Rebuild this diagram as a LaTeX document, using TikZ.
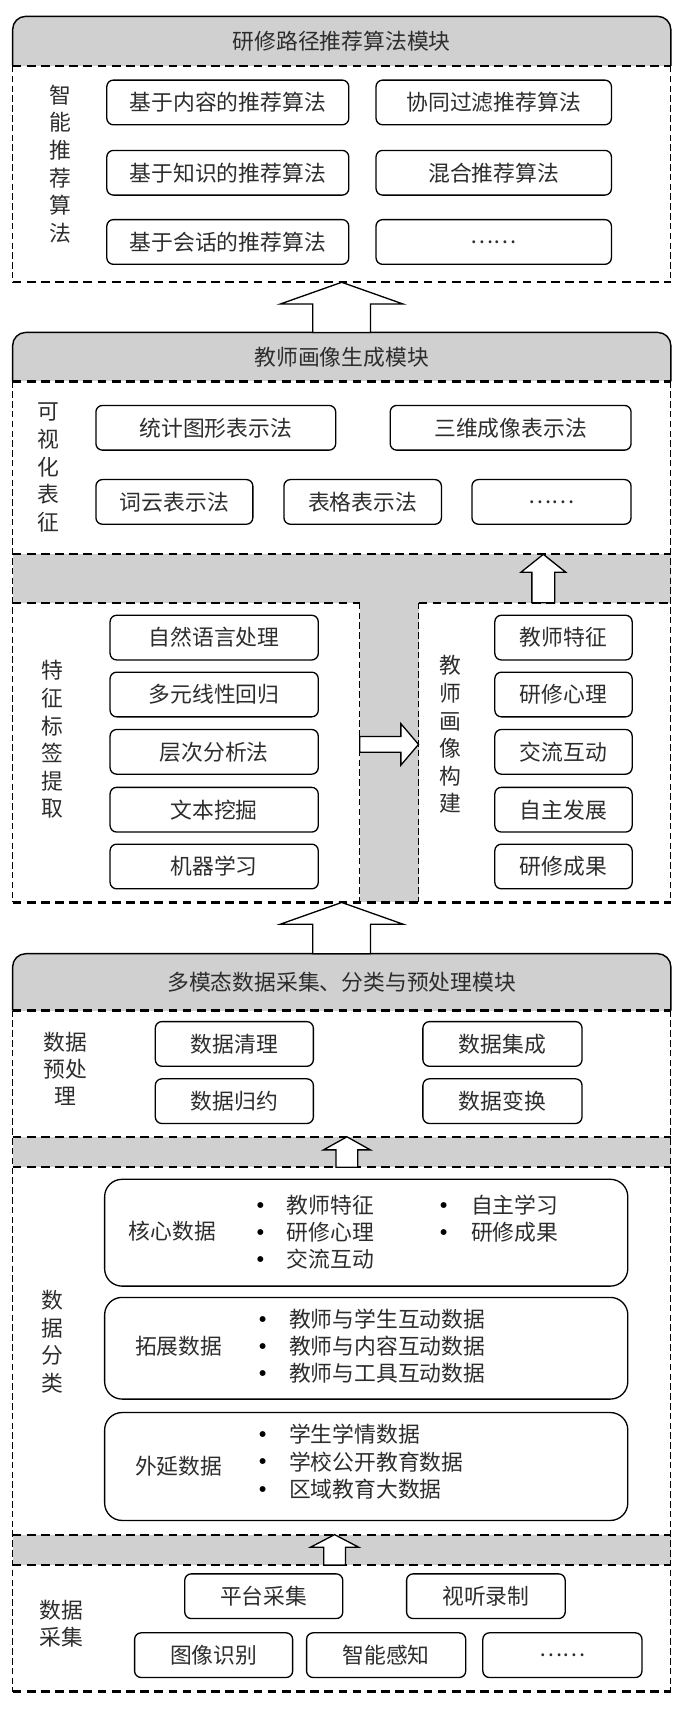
\documentclass[tikz,border=0pt]{standalone}
\usepackage{fontspec}
\setmainfont{Noto Sans CJK SC}
\newfontfamily\dejavu{DejaVu Sans}
\usetikzlibrary{backgrounds}
\definecolor{hdrgray}{RGB}{208,208,208}
\definecolor{txtgray}{RGB}{45,45,45}
\tikzset{
  rbox/.style={draw=black, line width=1.2pt, rounded corners=6pt, fill=white, minimum height=41pt, inner sep=0pt, text=txtgray, font=\fontsize{20}{24}\selectfont},
  bigbox/.style={draw=black, line width=1.2pt, rounded corners=16pt, fill=white, inner sep=0pt, minimum width=480pt},
  vlabel/.style={align=center, text=txtgray, inner sep=0pt, font=\fontsize{20}{25.3}\selectfont},
  plaintxt/.style={text=txtgray, inner sep=0pt, font=\fontsize{20}{24}\selectfont},
  bul/.style={text=black, inner sep=0pt, font=\dejavu\fontsize{7}{7}\selectfont},
  modhead/.style={text=txtgray, inner sep=0pt, outer sep=0pt, minimum width=603.9pt, font=\fontsize{20}{24}\selectfont, anchor=north west},
  sect/.style={fill=white, inner sep=0pt, outer sep=0pt, anchor=north west},
  hdash/.style={line width=2pt, dash pattern=on 8pt off 5pt},
  vdash/.style={line width=0.9pt, dash pattern=on 6pt off 3pt},
  solidedge/.style={line width=1.3pt, rounded corners=12pt},
  blockarrow/.style={draw=black, fill=white, line width=1.2pt, line join=miter},
  pics/uparrow/.style n args={4}{code={\path[blockarrow] (0,0) -- (-#1,#3) -- (-#2,#3) -- (-#2,#4) -- (#2,#4) -- (#2,#3) -- (#1,#3) -- cycle;}},
  pics/rightarrow/.style n args={4}{code={\path[blockarrow] (0,0) -- (-#3,-#1) -- (-#3,-#2) -- (-#4,-#2) -- (-#4,#2) -- (-#3,#2) -- (-#3,#1) -- cycle;}},
}
\newcommand\myitem[5]{\node[bul] (#1b) at (#2,#4) {●};\node[plaintxt, anchor=west] (#1) at (#3,#4) {#5};}
\begin{document}
\begin{tikzpicture}[x=1pt,y=-1pt]
\useasboundingbox (0,0) rectangle (627,1568);

% ================= Module 1 =================
\node[modhead, minimum height=45.5pt] (m1h) at (11.6,15) {研修路径推荐算法模块};
\node[sect, minimum width=603.9pt, minimum height=198.5pt] (m1c) at (m1h.south west) {};
\draw[solidedge] (m1h.south west) -- (m1h.north west) -- (m1h.north east) -- (m1h.south east);
\draw[vdash] (m1c.north west) -- (m1c.south west) (m1c.north east) -- (m1c.south east);
\draw[hdash] (m1c.north west) -- (m1c.north east) (m1c.south west) -- (m1c.south east);

\node[vlabel] (l1) at (55,150.5) {智\\能\\推\\荐\\算\\法};
\node[rbox, minimum width=222pt] (b11) at (209,94) {基于内容的推荐算法};
\node[rbox, minimum width=216pt] (b12) at (453,94) {协同过滤推荐算法};
\node[rbox, minimum width=222pt] (b21) at (209,158.5) {基于知识的推荐算法};
\node[rbox, minimum width=216pt] (b22) at (453,158.5) {混合推荐算法};
\node[rbox, minimum width=222pt] (b31) at (209,222) {基于会话的推荐算法};
\node[rbox, minimum width=216pt] (b32) at (453,222) {……};

% ================= Module 2 =================
\node[modhead, minimum height=45pt] (m2h) at (11.6,305) {教师画像生成模块};
\node[sect, minimum width=603.9pt, minimum height=158.6pt] (m2v) at (m2h.south west) {};
\node[sect, minimum width=318.4pt, minimum height=275pt] (m2l) at (11.6,553) {};
\node[sect, minimum width=231.5pt, minimum height=275pt] (m2r) at (384,553) {};
\draw[solidedge] (m2h.south west) -- (m2h.north west) -- (m2h.north east) -- (m2h.south east);
\draw[vdash] (m2h.south west) -- (m2l.south west) (m2h.south east) -- (m2r.south east)
  (m2l.north east) -- (m2l.south east) (m2r.north west) -- (m2r.south west);
\draw[hdash] (m2v.north west) -- (m2v.north east) (m2v.south west) -- (m2v.south east)
  (m2l.north west) -- (m2l.north east) (m2r.north west) -- (m2r.north east)
  (m2l.south west) -- (m2r.south east);

\node[vlabel] (l2) at (44,429) {可\\视\\化\\表\\征};
\node[rbox, minimum width=220pt] (v1) at (198,392.5) {统计图形表示法};
\node[rbox, minimum width=221pt] (v2) at (468.5,392.5) {三维成像表示法};
\node[rbox, minimum width=144pt] (v3) at (160,460.5) {词云表示法};
\node[rbox, minimum width=144.5pt] (v4) at (332.75,460.5) {表格表示法};
\node[rbox, minimum width=146pt] (v5) at (506,460.5) {……};

\node[vlabel] (l3) at (48,678.6) {特\\征\\标\\签\\提\\取};
\node[rbox, minimum width=191pt] (f1) at (196.5,585) {自然语言处理};
\node[rbox, minimum width=191pt] (f2) at (196.5,637.2) {多元线性回归};
\node[rbox, minimum width=191pt] (f3) at (196.5,689.8) {层次分析法};
\node[rbox, minimum width=191pt] (f4) at (196.5,742.9) {文本挖掘};
\node[rbox, minimum width=191pt] (f5) at (196.5,795) {机器学习};

\node[vlabel] (l4) at (413,674) {教\\师\\画\\像\\构\\建};
\node[rbox, minimum width=126pt] (p1) at (517,585) {教师特征};
\node[rbox, minimum width=126pt] (p2) at (517,637.2) {研修心理};
\node[rbox, minimum width=126pt] (p3) at (517,689.8) {交流互动};
\node[rbox, minimum width=126pt] (p4) at (517,742.9) {自主发展};
\node[rbox, minimum width=126pt] (p5) at (517,795) {研修成果};

% ================= Module 3 =================
\node[modhead, minimum height=52.2pt] (m3h) at (11.6,875) {多模态数据采集、分类与预处理模块};
\node[sect, minimum width=603.9pt, minimum height=115.8pt] (m3p) at (m3h.south west) {};
\node[sect, minimum width=603.9pt, minimum height=337pt] (m3k) at (11.6,1071) {};
\node[sect, minimum width=603.9pt, minimum height=116pt] (m3d) at (11.6,1436) {};
\draw[solidedge] (m3h.south west) -- (m3h.north west) -- (m3h.north east) -- (m3h.south east);
\draw[vdash] (m3h.south west) -- (m3d.south west) (m3h.south east) -- (m3d.south east);
\draw[hdash] (m3p.north west) -- (m3p.north east) (m3p.south west) -- (m3p.south east)
  (m3k.north west) -- (m3k.north east) (m3k.south west) -- (m3k.south east)
  (m3d.north west) -- (m3d.north east) (m3d.south west) -- (m3d.south east);

\node[vlabel, font=\fontsize{20}{24.5}\selectfont] (l5) at (60,980.7) {数据\\预处\\理};
\node[rbox, minimum width=145pt] (d1) at (215,957.8) {数据清理};
\node[rbox, minimum width=146pt] (d2) at (461,957.8) {数据集成};
\node[rbox, minimum width=145pt] (d3) at (215,1010.3) {数据归约};
\node[rbox, minimum width=146pt] (d4) at (461,1010.3) {数据变换};

\node[vlabel] (l6) at (48,1231) {数\\据\\分\\类};
\node[bigbox, minimum height=98pt] (k1) at (336,1131) {};
\node[plaintxt] (k1t) at (158,1129.5) {核心数据};
\myitem{k1a}{239}{263}{1105.6}{教师特征}
\myitem{k1b}{239}{263}{1130.4}{研修心理}
\myitem{k1c}{239}{263}{1155.2}{交流互动}
\myitem{k1d}{407}{432}{1105.6}{自主学习}
\myitem{k1e}{407}{432}{1130.4}{研修成果}

\node[bigbox, minimum height=93.3pt] (k2) at (336,1237) {};
\node[plaintxt] (k2t) at (164,1235.4) {拓展数据};
\myitem{k2a}{241}{265}{1210.3}{教师与学生互动数据}
\myitem{k2b}{241}{265}{1235.4}{教师与内容互动数据}
\myitem{k2c}{241}{265}{1260.2}{教师与工具互动数据}

\node[bigbox, minimum height=99pt] (k3) at (336,1345.5) {};
\node[plaintxt] (k3t) at (164,1345) {外延数据};
\myitem{k3a}{241}{265}{1315.8}{学生学情数据}
\myitem{k3b}{241}{265}{1341.3}{学校公开教育数据}
\myitem{k3c}{241}{265}{1366.3}{区域教育大数据}

\node[vlabel, font=\fontsize{20}{24.6}\selectfont] (l7) at (56,1490) {数据\\采集};
\node[rbox, minimum width=145pt] (c1) at (242,1464.5) {平台采集};
\node[rbox, minimum width=145.5pt] (c2) at (445.8,1464.5) {视听录制};
\node[rbox, minimum width=145pt] (c3) at (196,1518.6) {图像识别};
\node[rbox, minimum width=146pt] (c4) at (354.3,1518.6) {智能感知};
\node[rbox, minimum width=146pt] (c5) at (516,1518.6) {……};

% ================= Block arrows =================
\coordinate (a1) at (313.5,259);
\coordinate (a2) at (313.5,828);
\coordinate (a3) at (498.5,508.6);
\coordinate (a4) at (318.3,1043);
\coordinate (a5) at (307,1408);
\coordinate (a6) at (384,683);
\pic at (a1) {uparrow={56.5}{26.5}{20}{46}};
\pic at (a2) {uparrow={56.5}{26.5}{20}{47}};
\pic at (a3) {uparrow={20.5}{10.5}{16.4}{44.4}};
\pic at (a4) {uparrow={21.5}{10}{12}{28}};
\pic at (a5) {uparrow={22}{10}{11.5}{28}};
\pic at (a6) {rightarrow={19}{7.2}{16.2}{54}};

% ================= Backgrounds =================
\begin{scope}[on background layer]
  \fill[white] (0,0) rectangle (627,1568);
  \fill[hdrgray, rounded corners=12pt] (m1h.north west) rectangle (m1h.south east);
  \fill[hdrgray] (m1h.west) rectangle (m1h.south east);
  \fill[hdrgray, rounded corners=12pt] (m2h.north west) rectangle (m2h.south east);
  \fill[hdrgray] (m2h.west) rectangle (m2r.south east);
  \fill[hdrgray, rounded corners=12pt] (m3h.north west) rectangle (m3h.south east);
  \fill[hdrgray] (m3h.west) rectangle (m3d.south east);
\end{scope}
\end{tikzpicture}
\end{document}
